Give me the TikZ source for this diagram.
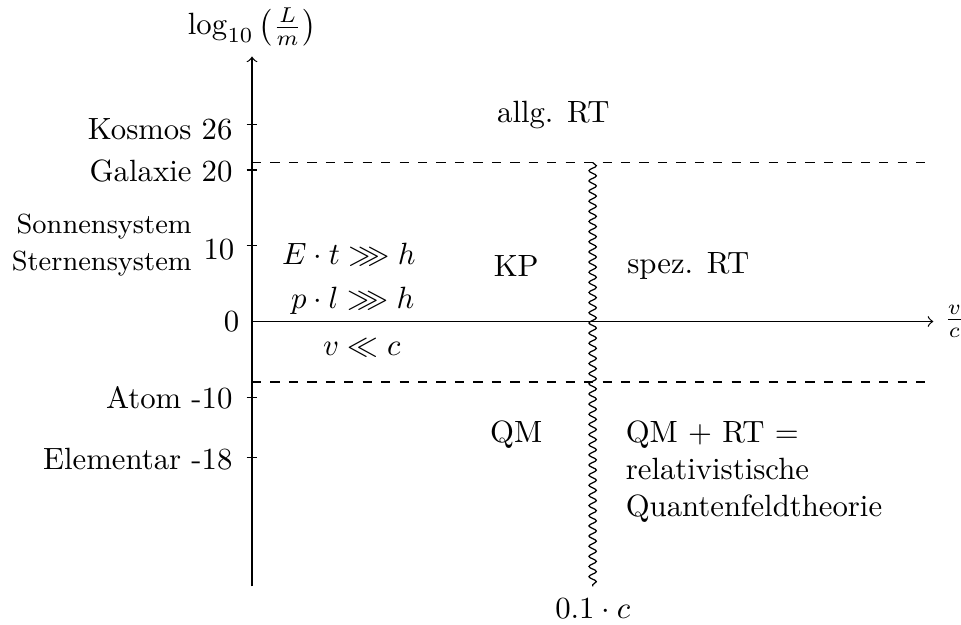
\documentclass[tikz,border=0pt]{standalone}
\usepackage{amsmath,amssymb}
\usetikzlibrary{decorations.pathmorphing}
\begin{document}
\begin{tikzpicture}[x=2.462pt,y=2.462pt,
  lab/.style={inner sep=0pt},
  tickmark/.style={line width=0.4pt},
  bound/.style={dashed},
  wave/.style={decorate,decoration={snake,segment length=3.3pt,amplitude=1.2pt}}]
\useasboundingbox (-33.29,-40.09) rectangle (93.66,42.47);
% axes
\coordinate (O) at (0,0);
\coordinate (ytop) at (0,35);
\coordinate (ybot) at (0,-35);
\coordinate (xend) at (90,0);
\draw[->] (ybot) -- (ytop);
\draw[->] (O) -- (xend);
\node[lab,anchor=south] (ylab) at (0,36.35) {$\log_{10}\left(\frac{L}{m}\right)$};
\node[right] (xlab) at (xend) {$\frac{v}{c}$};
% ticks
\foreach \t in {26,20,10,-10,-18}{
  \draw[tickmark] (-0.7,\t) -- (0.7,\t);
}
\node[lab,anchor=base east] (kosmos) at (-2.5,24.0) {Kosmos 26};
\node[lab,anchor=base east] (galaxie) at (-2.5,18.47) {Galaxie 20};
\node[lab,anchor=base east] (zehn) at (-2.25,8.14) {10};
\node[lab,anchor=base east] (sonne) at (-7.9,11.65) {\begin{tabular}[t]{@{}r@{}}\small Sonnensystem\\\small Sternensystem\end{tabular}};
\node[lab,anchor=base east] (null) at (-1.6,-1.35) {0};
\node[lab,anchor=base east] (atom) at (-2.5,-11.47) {Atom -10};
\node[lab,anchor=base east] (elem) at (-2.5,-19.5) {Elementar -18};
% boundaries
\coordinate (d1a) at (0,21);
\coordinate (d1b) at (90,21);
\coordinate (d2a) at (0,-8);
\coordinate (d2b) at (90,-8);
\draw[bound] (d1a) -- (d1b);
\draw[bound] (d2a) -- (d2b);
\coordinate (wtop) at (45,21);
\coordinate (wbot) at (45,-35);
\draw[wave] (wtop) -- (wbot);
\node[lab,anchor=base] (cval) at (45,-39.2) {$0.1\cdot c$};
% region labels
\node[lab,anchor=base] (allg) at (39.8,26.35) {allg. RT};
\node[lab,anchor=base] (kp) at (34.9,5.92) {KP};
\node[lab,anchor=base west] (spez) at (49.5,6.37) {spez. RT};
\node[lab,anchor=base] (et) at (12.8,7.56) {$E\cdot t\ggg h$};
\node[lab,anchor=base] (pl) at (13.3,1.74) {$p\cdot l\ggg h$};
\node[lab,anchor=base] (vc) at (14.5,-4.52) {$v\ll c$};
\node[lab,anchor=base] (qm) at (34.9,-16.0) {QM};
\node[lab,anchor=base west] (qft) at (49.3,-16.0) {\begin{tabular}[t]{@{}l@{}}QM + RT =\\relativistische\\Quantenfeldtheorie\end{tabular}};
\end{tikzpicture}
\end{document}
